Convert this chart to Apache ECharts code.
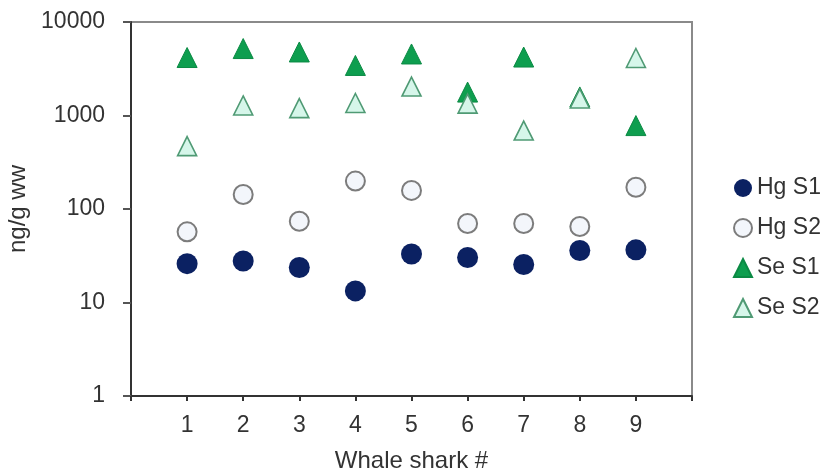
<!DOCTYPE html>
<html>
<head>
<meta charset="utf-8">
<script src="https://cdn.jsdelivr.net/npm/echarts@6/dist/echarts.min.js"></script>
<style>
  html, body { margin: 0; padding: 0; background: #fff; }
  #chart { width: 829px; height: 470px; }
</style>
</head>
<body>
<div id="chart"></div>
<script>
// Whale shark number on the x axis
const sharks = [1, 2, 3, 4, 5, 6, 7, 8, 9];
// Concentrations in ng/g wet weight
const hgS1 = [26, 27.8, 23.7, 13.3, 33, 30.3, 25.5, 36, 36.6];
const hgS2 = [57, 143, 74, 199, 158, 70, 70, 65, 171];
const seS1 = [4170, 5200, 4780, 3430, 4550, 1780, 4220, 1580, 780];
const seS2 = [470, 1280, 1200, 1360, 2040, 1340, 690, 1520, 4120];
const yTicks = [1, 10, 100, 1000, 10000];

const FONT = 'Liberation Sans, Arial, sans-serif';
const pairs = (vals) => sharks.map((s, i) => [s, vals[i]]);

const chart = echarts.init(document.getElementById('chart'));
chart.setOption({
  backgroundColor: '#ffffff',
  animation: false,
  grid: {
    left: 131, right: 137, top: 22, bottom: 74,
    containLabel: false, outerBoundsMode: 'none',
    show: true, borderColor: '#8a8a8a', borderWidth: 2, backgroundColor: 'transparent'
  },
  legend: {
    orient: 'vertical',
    left: 728, top: 171,
    itemWidth: 18, itemHeight: 18, itemGap: 16,
    textStyle: { fontFamily: FONT, fontSize: 23, lineHeight: 24, color: '#333' },
    data: ['Hg S1', 'Hg S2', 'Se S1', 'Se S2']
  },
  xAxis: {
    type: 'value', min: 0, max: 10, interval: 1,
    name: 'Whale shark #', nameLocation: 'middle', nameGap: 53,
    nameTextStyle: { fontFamily: FONT, fontSize: 24, color: '#333' },
    splitLine: { show: false },
    axisLine: { show: true, lineStyle: { color: '#333', width: 2 } },
    axisTick: { show: true, inside: false, length: 5, lineStyle: { color: '#333', width: 2 } },
    axisLabel: {
      fontFamily: FONT, fontSize: 23, color: '#333', margin: 18,
      formatter: (v) => (sharks.indexOf(v) >= 0 ? String(v) : '')
    }
  },
  yAxis: {
    type: 'log', logBase: 10, min: 1, max: 10000,
    name: 'ng/g ww', nameLocation: 'middle', nameGap: 96, nameRotate: 90,
    nameTextStyle: { fontFamily: FONT, fontSize: 24, color: '#333' },
    splitLine: { show: false },
    axisLine: { show: true, lineStyle: { color: '#333', width: 2 } },
    axisTick: { show: true, inside: false, length: 8, lineStyle: { color: '#555', width: 2 } },
    axisLabel: {
      fontFamily: FONT, fontSize: 23, color: '#333', margin: 26,
      formatter: (v) => (yTicks.indexOf(Math.round(v)) >= 0 ? String(Math.round(v)) : '')
    }
  },
  series: [
    {
      name: 'Hg S1', type: 'scatter', symbol: 'circle', symbolSize: 21,
      itemStyle: { color: '#0b2162', borderColor: '#0b2162', borderWidth: 0, opacity: 1 },
      data: pairs(hgS1)
    },
    {
      name: 'Hg S2', type: 'scatter', symbol: 'circle', symbolSize: 19,
      itemStyle: { color: '#f3f6fb', borderColor: '#7c7c7c', borderWidth: 2, opacity: 1 },
      data: pairs(hgS2)
    },
    {
      name: 'Se S1', type: 'scatter', symbol: 'triangle', symbolSize: [20, 20],
      itemStyle: { color: '#0e9e4f', borderColor: '#0b8a44', borderWidth: 1, opacity: 1 },
      data: pairs(seS1)
    },
    {
      name: 'Se S2', type: 'scatter', symbol: 'triangle', symbolSize: [19, 19],
      itemStyle: { color: '#d6f6ea', borderColor: '#4f9a74', borderWidth: 1.6, opacity: 1 },
      data: pairs(seS2)
    }
  ]
});
</script>
</body>
</html>
